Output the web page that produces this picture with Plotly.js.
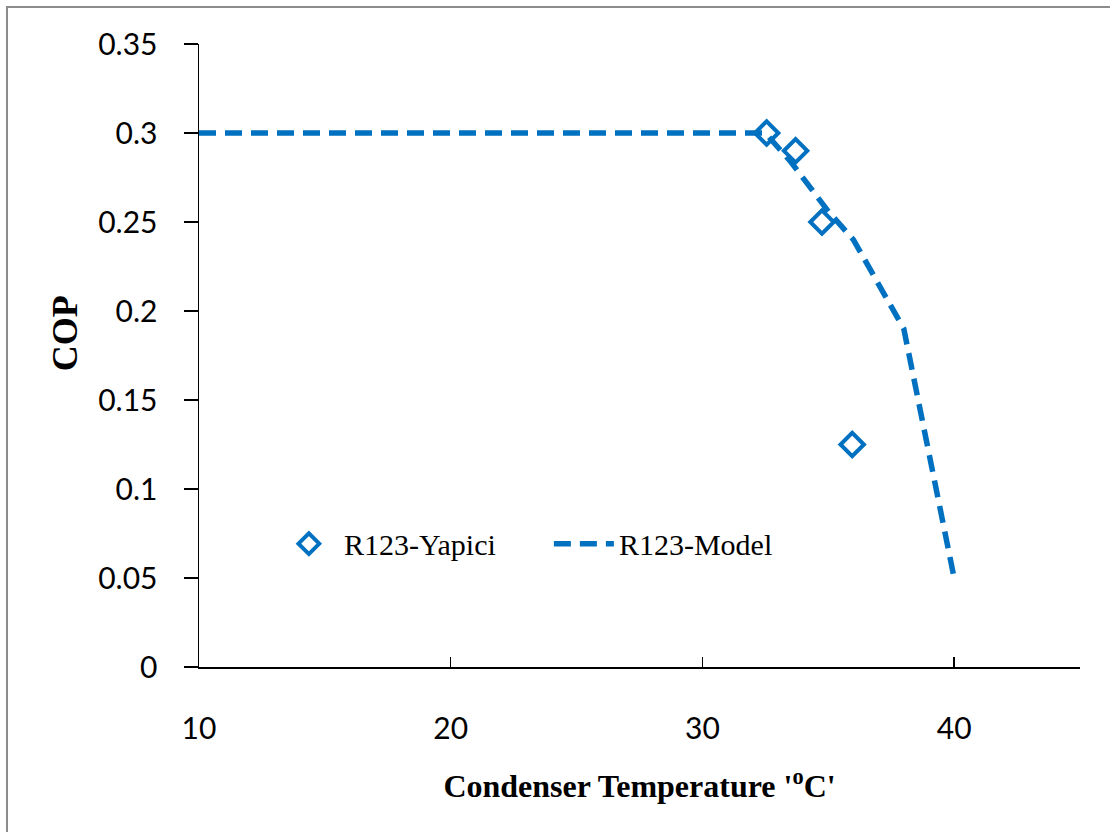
<!DOCTYPE html>
<html>
<head>
<meta charset="utf-8">
<script src="https://cdn.plot.ly/plotly-3.0.1.min.js"></script>
<style>
html,body{margin:0;padding:0;background:#fff;}
#frame{position:absolute;left:6px;top:6px;width:1110px;height:832px;border-left:2px solid #8c8c8c;border-top:2px solid #8c8c8c;}
#chart{position:absolute;left:0;top:0;width:1110px;height:832px;}
</style>
</head>
<body>
<div id="frame"></div>
<div id="chart"></div>
<script>
// Experimental data (R123-Yapici)
const yapiciTemp = [32.55, 33.7, 34.75, 35.95];
const yapiciCOP = [0.300, 0.290, 0.250, 0.125];
// Model curve (R123-Model)
const modelTemp = [10, 32.5, 33.5, 35, 36, 38, 40];
const modelCOP = [0.300, 0.300, 0.284, 0.256, 0.240, 0.190, 0.050];
const xTicks = [10, 20, 30, 40];
const yTicks = [0, 0.05, 0.1, 0.15, 0.2, 0.25, 0.3, 0.35];
const yTickText = ['0', '0.05', '0.1', '0.15', '0.2', '0.25', '0.3', '0.35'];

const blue = '#0070C0';
const traces = [
  {
    x: yapiciTemp, y: yapiciCOP, mode: 'markers', type: 'scatter', name: 'R123-Yapici',
    marker: {symbol: 'diamond-open', size: 18, color: blue, line: {width: 4, color: blue}}
  },
  {
    x: modelTemp, y: modelCOP, mode: 'lines', type: 'scatter', name: 'R123-Model',
    line: {color: blue, width: 5.5, dash: '17px,9px'}
  }
];
const layout = {
  width: 1110, height: 832,
  margin: {l: 199, r: 30, t: 44, b: 165},
  paper_bgcolor: 'rgba(0,0,0,0)', plot_bgcolor: 'rgba(0,0,0,0)',
  showlegend: true,
  legend: {
    orientation: 'h', x: 0.085, y: 0.198, xanchor: 'left', yanchor: 'middle',
    font: {family: 'Liberation Serif', size: 30, color: '#000'},
    bgcolor: 'rgba(0,0,0,0)', itemwidth: 60, entrywidth: 200, entrywidthmode: 'pixels', tracegroupgap: 0
  },
  annotations: [{
    text: '<b>COP</b>', xref: 'paper', yref: 'paper', x: -0.152, y: 0.536,
    xanchor: 'center', yanchor: 'middle', textangle: -90, showarrow: false,
    font: {family: 'Liberation Serif', size: 36, color: '#000'}
  }],
  xaxis: {
    range: [10, 45], tickvals: xTicks, ticktext: xTicks.map(String),
    showgrid: false, zeroline: false, showline: true, linecolor: '#000', linewidth: 1.5,
    ticks: 'inside', ticklen: 10, tickwidth: 1.5, tickcolor: '#000',
    ticklabelstandoff: 34,
    tickfont: {family: 'Lato, Carlito, sans-serif', size: 30, color: '#000'},
    title: {text: "Condenser Temperature '<sup>o</sup>C'", standoff: 31,
      font: {family: 'Liberation Serif', size: 32, color: '#000', weight: 'bold'}}
  },
  yaxis: {
    range: [0, 0.35], tickvals: yTicks, ticktext: yTickText,
    showgrid: false, zeroline: false, showline: true, linecolor: '#000', linewidth: 1.5,
    ticks: 'outside', ticklen: 14, tickwidth: 1.5, tickcolor: '#000',
    ticklabelstandoff: 20,
    tickfont: {family: 'Lato, Carlito, sans-serif', size: 30, color: '#000'}
  }
};
Plotly.newPlot('chart', traces, layout, {displayModeBar: false, staticPlot: true});
</script>
</body>
</html>
